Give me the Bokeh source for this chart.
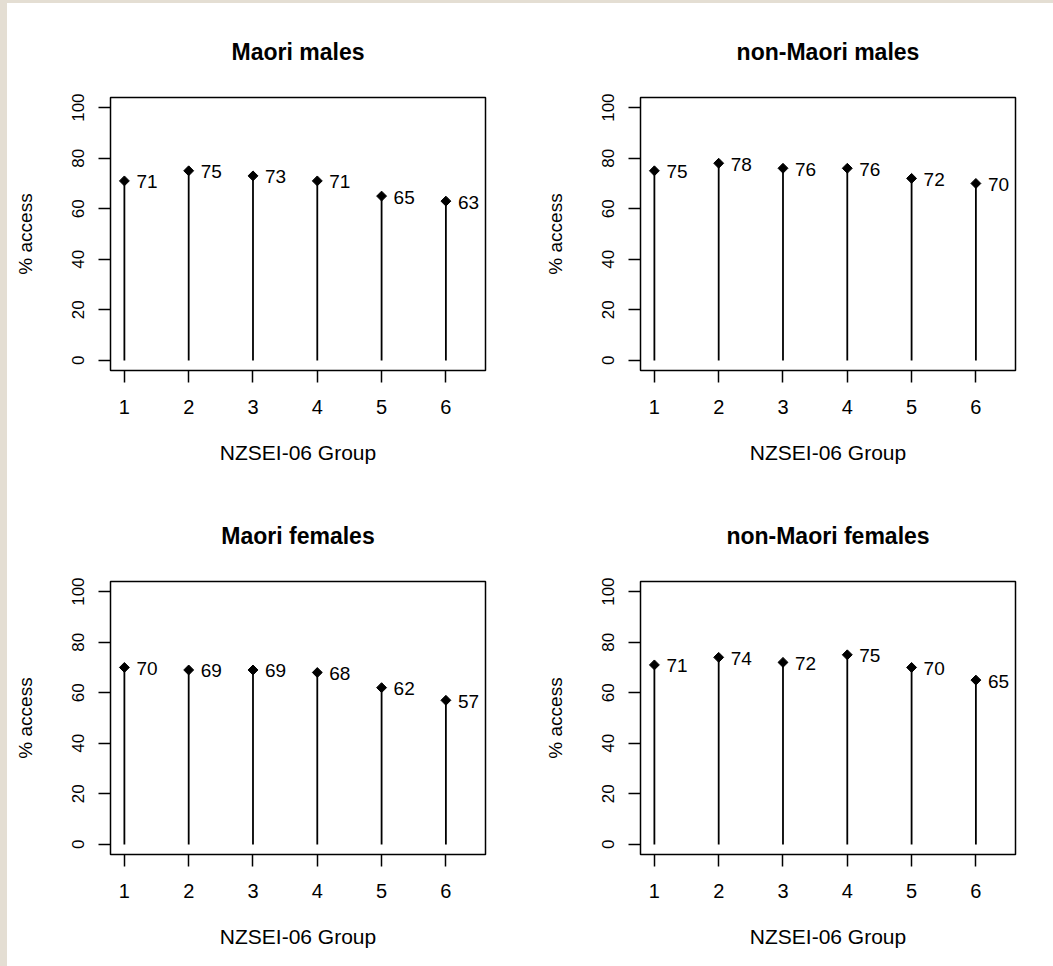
from math import pi
from bokeh.plotting import figure
from bokeh.models import Range1d, FixedTicker, Div
from bokeh.layouts import row, column
from bokeh.embed import file_html
from bokeh.resources import INLINE
from bokeh.core.properties import value

# ---- data ----
groups = [1, 2, 3, 4, 5, 6]
group_ticks = [1, 2, 3, 4, 5, 6]
pct_ticks = [0, 20, 40, 60, 80, 100]
maori_males = [71, 75, 73, 71, 65, 63]
nonmaori_males = [75, 78, 76, 76, 72, 70]
maori_females = [70, 69, 69, 68, 62, 57]
nonmaori_females = [71, 74, 72, 75, 70, 65]
titles = ["Maori males", "non-Maori males", "Maori females", "non-Maori females"]
x_label = "NZSEI-06 Group"
y_label = "% access"

FONT = "Liberation Sans"
BEIGE = "#e4ded3"


def make_panel(title, vals, width, height, bl, br, bt, bb):
    p = figure(width=width, height=height, output_backend="svg", toolbar_location=None,
               x_range=Range1d(0.784, 6.616), y_range=Range1d(-4, 104),
               min_border_left=bl, min_border_right=br, min_border_top=bt, min_border_bottom=bb,
               background_fill_color="white", border_fill_color="white", title=title)
    p.title.align = "center"
    p.title.text_font = FONT
    p.title.text_font_size = "23px"
    p.title.text_font_style = "bold"
    p.title.text_color = "black"
    p.title.standoff = 66

    p.outline_line_color = "black"
    p.outline_line_width = 1.5
    p.outline_line_alpha = 1.0
    p.xgrid.grid_line_color = None
    p.ygrid.grid_line_color = None

    p.xaxis.ticker = FixedTicker(ticks=group_ticks)
    p.yaxis.ticker = FixedTicker(ticks=pct_ticks)
    for ax in (p.xaxis, p.yaxis):
        ax.axis_line_color = None
        ax.major_tick_in = 0
        ax.major_tick_out = 12
        ax.major_tick_line_color = "black"
        ax.major_tick_line_width = 1.5
        ax.minor_tick_line_color = None
        ax.major_label_text_font = FONT
        ax.major_label_text_color = "black"
        ax.axis_label_text_font = FONT
        ax.axis_label_text_font_style = "normal"
        ax.axis_label_text_color = "black"
    p.xaxis.major_label_text_font_size = "20px"
    p.xaxis.major_label_standoff = 17
    p.xaxis.axis_label = x_label
    p.xaxis.axis_label_text_font_size = "21px"
    p.xaxis.axis_label_standoff = 24
    p.yaxis.major_label_text_font_size = "17px"
    p.yaxis.major_label_orientation = "vertical"
    p.yaxis.major_label_standoff = 14
    p.yaxis.axis_label = y_label
    p.yaxis.axis_label_text_font_size = "19px"
    p.yaxis.axis_label_standoff = 34

    p.segment(x0=groups, y0=[0] * len(vals), x1=groups, y1=vals,
              line_color="black", line_width=1.8)
    p.scatter(groups, vals, marker="square", angle=pi / 4, size=7,
              fill_color="black", line_color="black")
    p.text(x=groups, y=vals, text=[str(v) for v in vals], x_offset=12, y_offset=1,
           text_baseline="middle", text_align="left", text_font=value(FONT),
           text_font_size="19px", text_color="black")
    return p


f1 = make_panel(titles[0], maori_males, 520, 480, 103, 42, 94, 113)
f2 = make_panel(titles[1], nonmaori_males, 526, 480, 113, 38, 94, 113)
f3 = make_panel(titles[2], maori_females, 520, 483, 103, 42, 98, 112)
f4 = make_panel(titles[3], nonmaori_females, 526, 483, 113, 38, 98, 112)

grid = column(row(f1, f2), row(f3, f4))
left_strip = Div(text="", width=7, height=966, margin=0, styles={"background-color": BEIGE})
top_strip = Div(text="", width=1046, height=3, margin=0, styles={"background-color": BEIGE})
page = row(left_strip, column(top_strip, grid))

open("out.html", "w").write(file_html(page, INLINE))
